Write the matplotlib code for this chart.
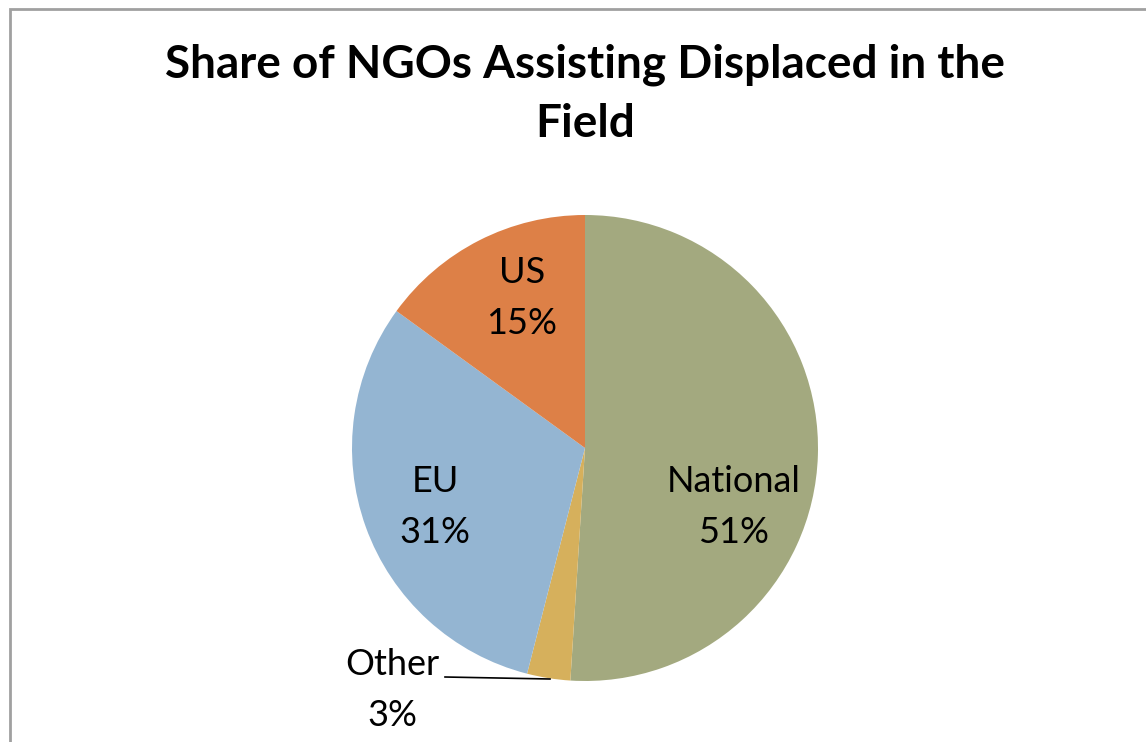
import matplotlib.pyplot as plt
from matplotlib.patches import Rectangle

labels = ['National', 'Other', 'EU', 'US']
shares = [51, 3, 31, 15]
colors = ['#A3A97F', '#D6B05C', '#94B5D2', '#DD8047']

W, H = 1146, 742
fig = plt.figure(figsize=(W / 100, H / 100), dpi=100)
ax = fig.add_axes([0, 0, 1, 1])

# pie drawn clockwise from 12 o'clock
ax.pie(shares, colors=colors, startangle=90, counterclock=False,
       center=(585, H - 448), radius=233, frame=True,
       wedgeprops=dict(linewidth=0))
ax.set_xlim(0, W)
ax.set_ylim(0, H)
ax.axis('off')

# chart area border (cropped on right and bottom)
fig.patches.append(Rectangle((10 / W, -0.1), 1.2, (H - 9) / H + 0.1,
                             transform=fig.transFigure, fill=False,
                             edgecolor='#A0A0A0', linewidth=2))

fnt = 'Lato'
ax.text(585, H - 94, 'Share of NGOs Assisting Displaced in the\nField',
        ha='center', va='center', fontsize=33, fontweight='bold',
        family=fnt, linespacing=1.5)

label_pos = {'National': (734, 507), 'Other': (392, 690),
             'EU': (435, 507), 'US': (522, 298)}
for name, val in zip(labels, shares):
    x, y = label_pos[name]
    ax.text(x, H - y, f'{name}\n{val}%', ha='center', va='center',
            fontsize=26, family=fnt, linespacing=1.65)

# leader line for the small slice
ax.plot([445, 550], [H - 677, H - 679], color='black', linewidth=1.2)

fig.savefig('out.png', dpi=100)
